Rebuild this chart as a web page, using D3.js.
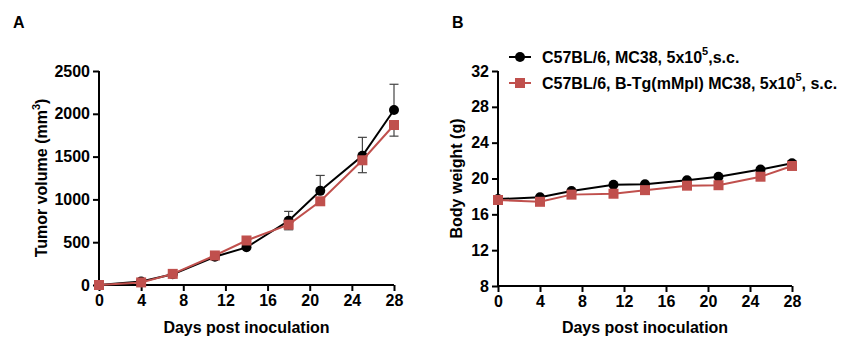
<!DOCTYPE html>
<html>
<head>
<meta charset="utf-8">
<script src="https://cdn.jsdelivr.net/npm/d3@7"></script>
<style>
  body { margin: 0; background: #fff; }
  svg { display: block; font-family: "Liberation Sans", Arial, sans-serif; font-weight: bold; }
</style>
</head>
<body>
<svg id="chart" width="856" height="346"></svg>
<script>
// Measurement days
const days = [0, 4, 7, 11, 14, 18, 21, 25, 28];

// Tumor volume (mm^3)
const volWT = [0, 40, 125, 330, 440, 750, 1100, 1510, 2045];
const volWTErr = [0, 10, 15, 20, 35, 110, 180, 215, 300];
const volTg = [0, 30, 130, 345, 520, 705, 978, 1457, 1869];
const volTgErr = [0, 10, 15, 20, 30, 60, 40, 145, 130];

// Body weight (g)
const bwWT = [17.7, 17.9, 18.6, 19.3, 19.35, 19.8, 20.2, 21.0, 21.7];
const bwWTErr = [0.1, 0.1, 0.1, 0.1, 0.1, 0.1, 0.1, 0.15, 0.3];
const bwTg = [17.6, 17.4, 18.2, 18.3, 18.7, 19.2, 19.25, 20.2, 21.4];
const bwTgErr = [0.1, 0.1, 0.1, 0.1, 0.1, 0.1, 0.1, 0.1, 0.2];

// Axis ticks
const xTicks = [0, 4, 8, 12, 16, 20, 24, 28];
const volTicks = [0, 500, 1000, 1500, 2000, 2500];
const bwTicks = [8, 12, 16, 20, 24, 28, 32];

const legendLabels = [
  ["C57BL/6, MC38, 5x10", "5", ",s.c."],
  ["C57BL/6, B-Tg(mMpl) MC38, 5x10", "5", ", s.c."]
];

const BLACK = "#000";
const RED = "#C0504D";
const ERR = "#444";
const FS = "16px";

const svg = d3.select("#chart");

function panel(opts) {
  const g = svg.append("g");
  const x = d3.scaleLinear().domain([0, 28]).range([opts.x0, opts.x1]);
  const y = d3.scaleLinear().domain(opts.yDomain).range([opts.y0, opts.y1]);

  const xAxis = g.append("g")
    .attr("transform", `translate(0,${opts.y0})`)
    .call(d3.axisBottom(x).tickValues(xTicks).tickFormat(d3.format("d")).tickSize(6).tickPadding(4));
  const yAxis = g.append("g")
    .attr("transform", `translate(${opts.x0},0)`)
    .call(d3.axisLeft(y).tickValues(opts.yTicks).tickFormat(d3.format("d")).tickSize(6).tickPadding(3));

  [xAxis, yAxis].forEach(a => {
    a.select(".domain").attr("stroke", "#000").attr("stroke-width", 2)
      .attr("d", a === xAxis ? `M${opts.x0},0H${opts.x1}` : `M0,${opts.y0}V${opts.y1}`);
    a.selectAll(".tick line").attr("stroke", "#000").attr("stroke-width", 2);
    a.selectAll(".tick text").attr("fill", "#000")
      .style("font-size", FS).style("font-weight", "bold")
      .style("font-family", "'Liberation Sans', Arial, sans-serif");
  });

  // x title
  g.append("text")
    .attr("x", (opts.x0 + opts.x1) / 2).attr("y", 333)
    .attr("text-anchor", "middle").style("font-size", FS)
    .text("Days post inoculation");

  // y title
  const yt = g.append("text")
    .attr("transform", `translate(${opts.ytX},${(opts.y0 + opts.y1) / 2}) rotate(-90)`)
    .attr("text-anchor", "middle").style("font-size", FS);
  yt.append("tspan").text(opts.yTitle[0]);
  if (opts.yTitle.length > 1) {
    yt.append("tspan").attr("dy", -7).style("font-size", "11px").text(opts.yTitle[1]);
    yt.append("tspan").attr("dy", 7).text(opts.yTitle[2]);
  }

  // panel letter
  g.append("text").attr("x", opts.letterX).attr("y", 28)
    .style("font-size", FS).text(opts.letter);

  const line = d3.line().x((d, i) => x(days[i])).y(d => y(d));

  function errBars(vals, errs, dir, color) {
    const eg = g.append("g");
    vals.forEach((v, i) => {
      if (!errs[i]) return;
      const yEnd = y(v + dir * errs[i]);
      const cx = x(days[i]);
      eg.append("line").attr("x1", cx).attr("x2", cx)
        .attr("y1", y(v)).attr("y2", yEnd)
        .attr("stroke", color).attr("stroke-width", 1.2);
      eg.append("line").attr("x1", cx - 4.5).attr("x2", cx + 4.5)
        .attr("y1", yEnd).attr("y2", yEnd)
        .attr("stroke", color).attr("stroke-width", 1.2);
    });
  }

  // Tg series drawn first, WT on top
  errBars(opts.tg, opts.tgErr, -1, ERR);
  errBars(opts.wt, opts.wtErr, 1, ERR);

  g.append("path").datum(opts.wt).attr("d", line)
    .attr("fill", "none").attr("stroke", BLACK).attr("stroke-width", 2);
  g.selectAll(null).data(opts.wt).enter().append("circle")
    .attr("cx", (d, i) => x(days[i])).attr("cy", d => y(d)).attr("r", 5)
    .attr("fill", BLACK);

  g.append("path").datum(opts.tg).attr("d", line)
    .attr("fill", "none").attr("stroke", RED).attr("stroke-width", 2);
  g.selectAll(null).data(opts.tg).enter().append("rect")
    .attr("x", (d, i) => x(days[i]) - 5).attr("y", d => y(d) - 5)
    .attr("width", 10).attr("height", 10).attr("fill", RED);
}

panel({
  x0: 99, x1: 394, y0: 285, y1: 71,
  yDomain: [0, 2500], yTicks: volTicks,
  yTitle: ["Tumor volume (mm", "3", ")"], ytX: 47,
  letter: "A", letterX: 13,
  wt: volWT, wtErr: volWTErr, tg: volTg, tgErr: volTgErr
});

panel({
  x0: 498, x1: 792, y0: 286, y1: 71,
  yDomain: [8, 32], yTicks: bwTicks,
  yTitle: ["Body weight (g)"], ytX: 462,
  letter: "B", letterX: 452,
  wt: bwWT, wtErr: bwWTErr, tg: bwTg, tgErr: bwTgErr
});

// Legend
const leg = svg.append("g");
legendLabels.forEach((lab, i) => {
  const ly = 57 + i * 26;
  leg.append("line").attr("x1", 509).attr("x2", 531).attr("y1", ly).attr("y2", ly)
    .attr("stroke", i === 0 ? BLACK : RED).attr("stroke-width", 2);
  if (i === 0) {
    leg.append("circle").attr("cx", 520).attr("cy", ly).attr("r", 5).attr("fill", BLACK);
  } else {
    leg.append("rect").attr("x", 515).attr("y", ly - 5).attr("width", 10).attr("height", 10).attr("fill", RED);
  }
  const t = leg.append("text").attr("x", 542).attr("y", ly + 6).style("font-size", FS);
  t.append("tspan").text(lab[0]);
  t.append("tspan").attr("dy", -8).style("font-size", "11px").text(lab[1]);
  t.append("tspan").attr("dy", 8).text(lab[2]);
});
</script>
</body>
</html>
